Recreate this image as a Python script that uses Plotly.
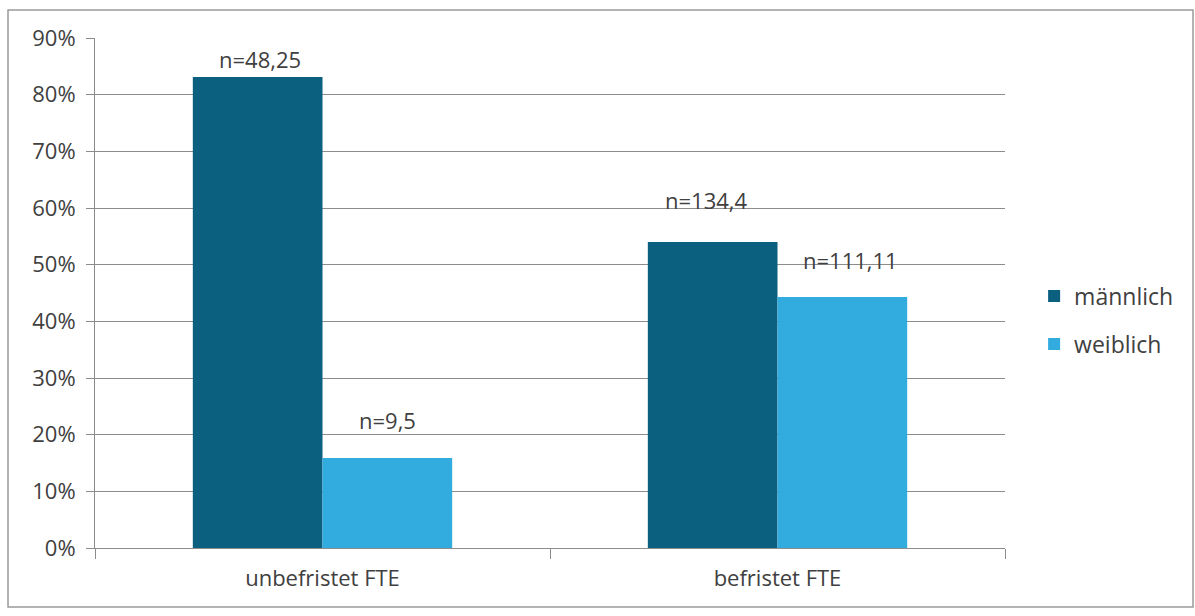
import plotly.graph_objects as go

# Share of FTE by contract type and gender
categories = ["unbefristet FTE", "befristet FTE"]
maennlich_pct = [83.1, 54.0]
weiblich_pct = [15.9, 44.3]
maennlich_n = ["n=48,25", "n=134,4"]
weiblich_n = ["n=9,5", "n=111,11"]
y_ticks = [0, 10, 20, 30, 40, 50, 60, 70, 80, 90]
y_tick_labels = [f"{v}%" for v in y_ticks]

FONT = "'Open Sans', Lato, sans-serif"
TEXT_COLOR = "#404040"
GRID = "#8c8c8c"
FS = 22
BAR_PX = 130  # rendered width of one bar in pixels (half-offset for labels)

# hand-placed label offsets (pixels above the bar top, horizontal nudge)
m_label_lift = [18, 42]
w_label_lift = [38, 37]
m_label_nudge = [2, -6]
w_label_nudge = [0, 8]

fig = go.Figure()
fig.add_trace(go.Bar(
    name="männlich", x=categories, y=maennlich_pct,
    marker=dict(color="#0b5f7f", line=dict(width=0)),
    legendgroup="m",
))
fig.add_trace(go.Bar(
    name="weiblich", x=categories, y=weiblich_pct,
    marker=dict(color="#32abdf", line=dict(width=0)),
    legendgroup="w",
))

# n-labels above each bar
for cat, val, txt, lift, nudge in zip(categories, maennlich_pct, maennlich_n,
                                       m_label_lift, m_label_nudge):
    fig.add_annotation(x=cat, y=val, text=txt, showarrow=False,
                       xshift=-BAR_PX / 2 + nudge, yshift=lift, yanchor="middle",
                       font=dict(family=FONT, size=FS, color=TEXT_COLOR))
for cat, val, txt, lift, nudge in zip(categories, weiblich_pct, weiblich_n,
                                       w_label_lift, w_label_nudge):
    fig.add_annotation(x=cat, y=val, text=txt, showarrow=False,
                       xshift=BAR_PX / 2 + nudge, yshift=lift, yanchor="middle",
                       font=dict(family=FONT, size=FS, color=TEXT_COLOR))

fig.update_layout(
    width=1195, height=616,
    margin=dict(l=95, r=190, t=38, b=68),
    paper_bgcolor="white", plot_bgcolor="white",
    barmode="group", bargap=0.43, bargroupgap=0,
    font=dict(family=FONT, size=FS, color=TEXT_COLOR),
    showlegend=True,
    legend=dict(
        x=1.032, y=0.447, xanchor="left", yanchor="middle",
        traceorder="grouped", tracegroupgap=15,
        font=dict(family=FONT, size=23, color=TEXT_COLOR),
        bgcolor="rgba(0,0,0,0)", itemwidth=30,
    ),
)
fig.update_yaxes(
    range=[0, 90], tickmode="array", tickvals=y_ticks, ticktext=y_tick_labels,
    showgrid=True, gridcolor=GRID, gridwidth=1,
    ticks="outside", ticklen=8, tickcolor=GRID, tickwidth=1,
    showline=True, linecolor=GRID, linewidth=1,
    zeroline=False,
    tickfont=dict(family=FONT, size=FS, color=TEXT_COLOR),
    ticklabelstandoff=6,
)
fig.update_xaxes(
    showline=True, linecolor=GRID, linewidth=1,
    ticks="outside", tickson="boundaries", ticklen=10, tickcolor=GRID,
    tickfont=dict(family=FONT, size=FS, color=TEXT_COLOR),
    ticklabelstandoff=11,
    showgrid=False,
)

# Outer chart frame
fig.add_shape(
    type="rect", xref="paper", yref="paper",
    x0=-0.0956, x1=1.2066, y0=-0.1157, y1=1.0549,
    line=dict(color="#9a9a9a", width=1.5), fillcolor="rgba(0,0,0,0)",
    layer="below",
)

fig.write_html("out.html")
